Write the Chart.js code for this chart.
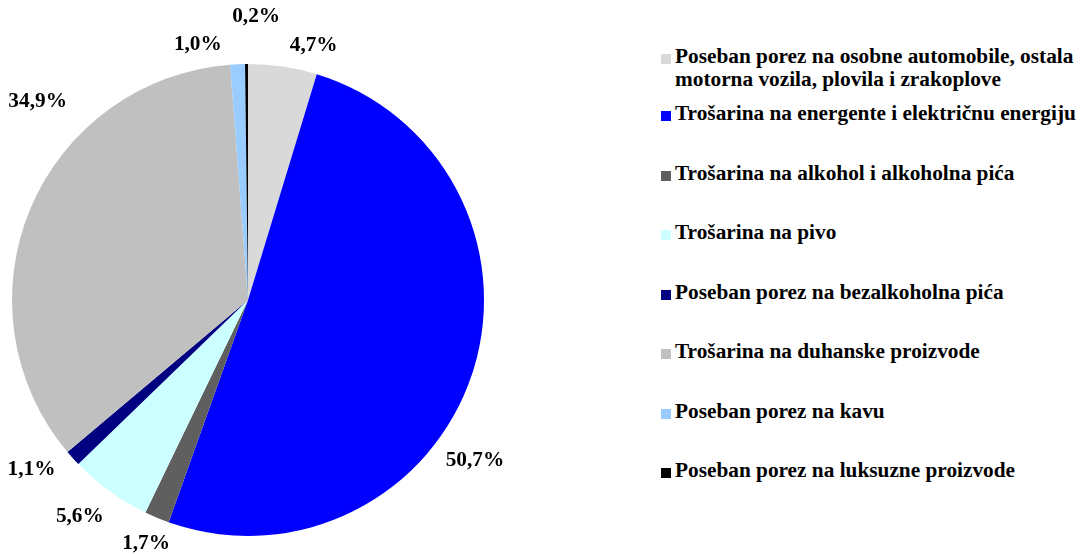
<!DOCTYPE html>
<html lang="hr">
<head>
    <meta charset="UTF-8">
    <title>Struktura trošarina i posebnih poreza</title>
    <script src="https://cdn.jsdelivr.net/npm/chart.js"></script>
    <style>
        * {
            margin: 0;
            padding: 0;
            font-family: 'Liberation Serif', 'Times New Roman', serif;
        }
        body {
            width: 1084px;
            height: 554px;
            background: #fff;
            position: relative;
            overflow: hidden;
        }
        #pieWrap {
            position: absolute;
            left: 0;
            top: 0;
            width: 560px;
            height: 554px;
        }
        #legend {
            position: absolute;
            left: 661px;
            top: 45px;
            width: 423px;
        }
        .item {
            position: relative;
            padding-left: 14px;
            font-weight: bold;
            font-size: 21.3px;
            line-height: 23px;
            white-space: nowrap;
            color: #000;
            margin-bottom: 36.5px;
        }
        .item:first-child {
            margin-bottom: 11px;
        }
        .item .box {
            position: absolute;
            left: 0;
            top: 9px;
            width: 10px;
            height: 10px;
        }
    </style>
</head>
<body>
    <div id="pieWrap"><canvas id="pieChart" width="560" height="554"></canvas></div>
    <div id="legend"></div>

    <script>
        const categories = [
            ['Poseban porez na osobne automobile, ostala', 'motorna vozila, plovila i zrakoplove'],
            'Trošarina na energente i električnu energiju',
            'Trošarina na alkohol i alkoholna pića',
            'Trošarina na pivo',
            'Poseban porez na bezalkoholna pića',
            'Trošarina na duhanske proizvode',
            'Poseban porez na kavu',
            'Poseban porez na luksuzne proizvode'
        ];
        const shares = [4.7, 50.7, 1.7, 5.6, 1.1, 34.9, 1.0, 0.2];
        const colors = ['#d9d9d9', '#0000ff', '#5f5f5f', '#ccffff', '#000080', '#c0c0c0', '#99ccff', '#000000'];

        // label nudges as Excel placed them: [extra degrees, distance beyond the rim]
        const labelNudge = [[6, 27], [17, 42], [0, 28], [2, 38], [4, 39], [20.5, 53], [-8.6, 24], [2, 48]];

        const pctLabels = {
            id: 'pctLabels',
            afterDatasetsDraw(chart) {
                const ctx = chart.ctx;
                const meta = chart.getDatasetMeta(0);
                ctx.save();
                ctx.font = 'bold 21.3px "Liberation Serif", serif';
                ctx.fillStyle = '#000';
                ctx.textAlign = 'center';
                ctx.textBaseline = 'middle';
                meta.data.forEach((arc, i) => {
                    const p = arc.getProps(['x', 'y', 'startAngle', 'endAngle', 'outerRadius'], true);
                    const ang = (p.startAngle + p.endAngle) / 2 + labelNudge[i][0] * Math.PI / 180;
                    const r = p.outerRadius + labelNudge[i][1];
                    const txt = shares[i].toFixed(1).replace('.', ',') + '%';
                    ctx.fillText(txt, p.x + Math.cos(ang) * r, p.y + Math.sin(ang) * r);
                });
                ctx.restore();
            }
        };

        const ctx = document.getElementById('pieChart').getContext('2d');
        new Chart(ctx, {
            type: 'pie',
            data: {
                labels: categories.map(c => Array.isArray(c) ? c.join(' ') : c),
                datasets: [{
                    data: shares,
                    backgroundColor: colors,
                    borderWidth: 0
                }]
            },
            options: {
                responsive: false,
                animation: false,
                layout: { padding: { left: 12, right: 76, top: 64, bottom: 18 } },
                plugins: {
                    legend: { display: false },
                    tooltip: { enabled: false }
                }
            },
            plugins: [pctLabels]
        });

        // legend on the right, built from the same arrays
        const legend = document.getElementById('legend');
        categories.forEach((c, i) => {
            const div = document.createElement('div');
            div.className = 'item';
            const box = document.createElement('span');
            box.className = 'box';
            box.style.background = colors[i];
            div.appendChild(box);
            const lines = Array.isArray(c) ? c : [c];
            lines.forEach((l, j) => {
                if (j > 0) div.appendChild(document.createElement('br'));
                div.appendChild(document.createTextNode(l));
            });
            legend.appendChild(div);
        });
    </script>
</body>
</html>
